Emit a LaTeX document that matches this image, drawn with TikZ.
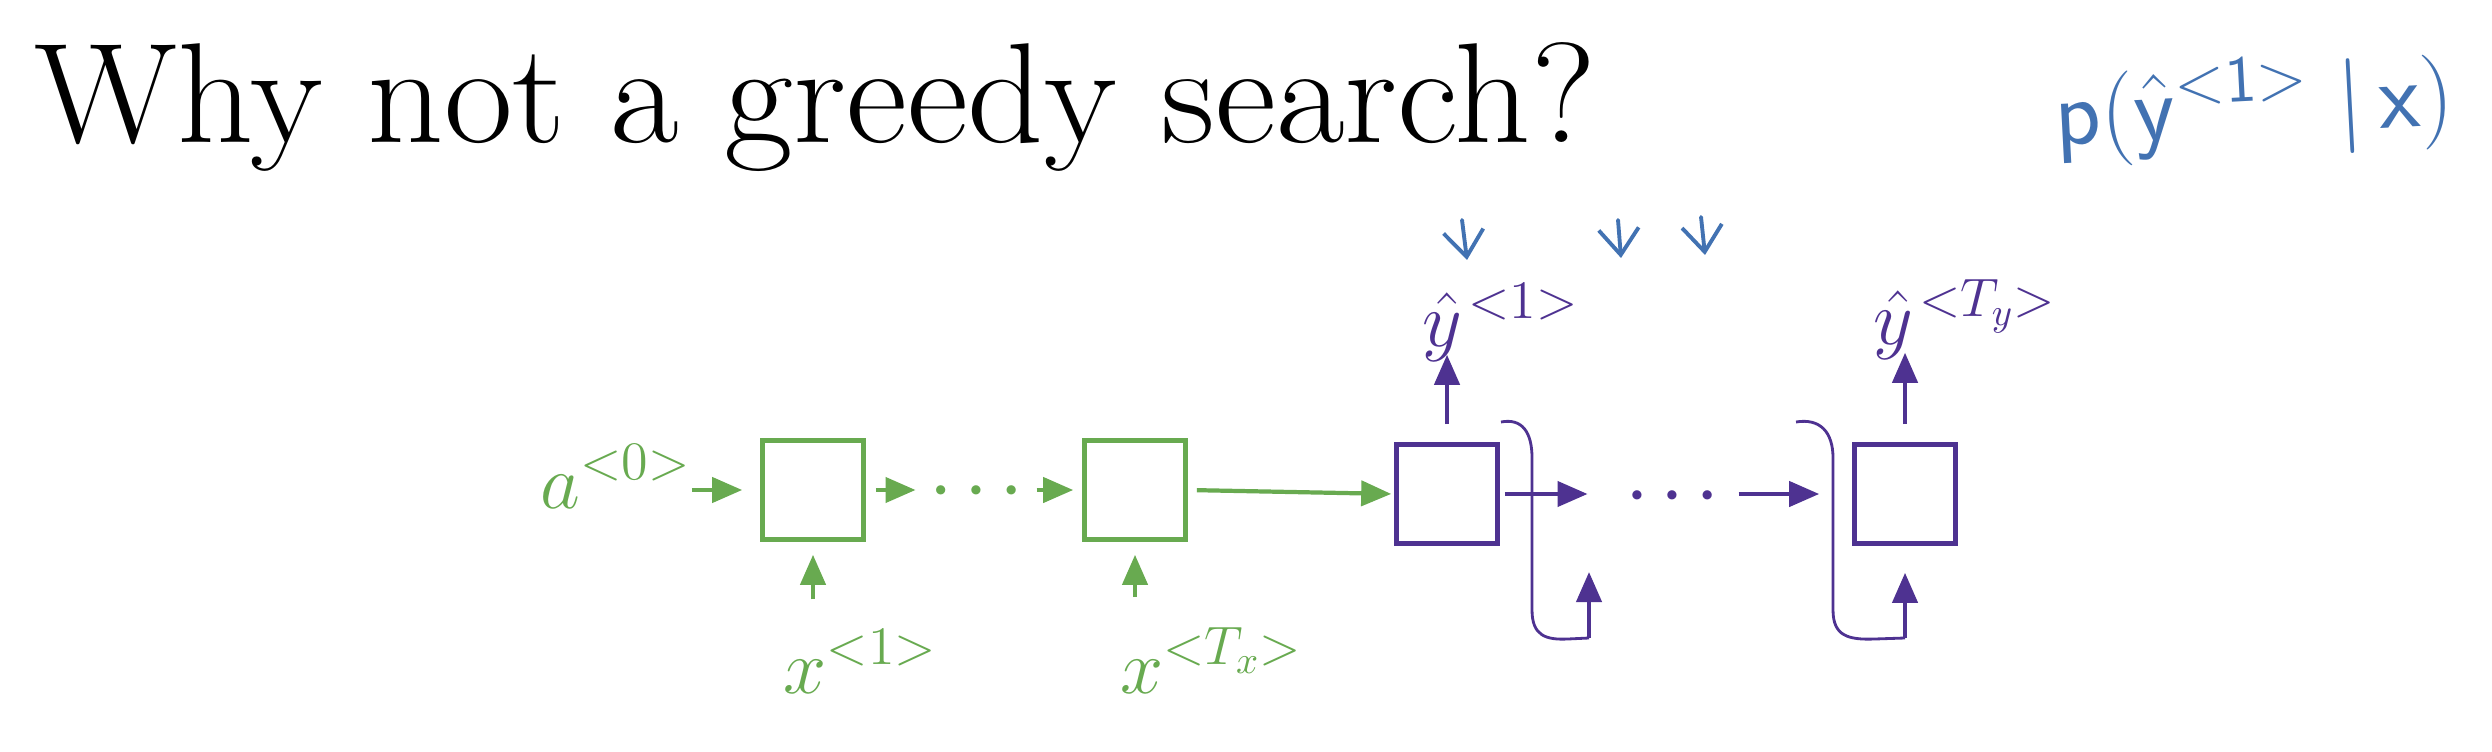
\RequirePackage{fix-cm}
\documentclass[tikz,border=0pt]{standalone}
\usepackage{graphicx}
\usetikzlibrary{arrows.meta}
\definecolor{ngreen}{RGB}{104,170,80}
\definecolor{npurple}{RGB}{78,50,145}
\definecolor{nblue}{RGB}{66,114,178}
\begin{document}
\begin{tikzpicture}[x=0.01cm,y=-0.01cm,
  cell/.style={draw, line width=1.3pt, minimum width=1.01cm, minimum height=0.99cm, inner sep=0pt},
  gcell/.style={cell, draw=ngreen},
  pcell/.style={cell, draw=npurple},
  lab/.style={inner sep=0pt, font=\fontsize{22}{26}\selectfont},
  dotsnode/.style={inner sep=0pt, font=\fontsize{9}{10}\selectfont},
  arr/.style={line width=1.2pt, -{Triangle[length=0.3cm,width=0.25cm]}},
  garr/.style={arr, color=ngreen},
  parr/.style={arr, color=npurple},
  loopline/.style={npurple, line width=0.8pt},
  hand/.style={nblue, line width=1.1pt, line cap=round, line join=round, -{Straight Barb[length=0.26cm,width=0.4cm]}}
]
\useasboundingbox (0,0) rectangle (2492,752);
\fill[white] (0,0) rectangle (2492,752);

% title
\node[anchor=base west, inner sep=0pt, font=\fontsize{40.5}{48}\selectfont] (title) at (34,143) {\scalebox{1.05}[1]{Why not a greedy search?}};

% handwritten
\node[nblue, inner sep=0pt, rotate=3, font=\fontsize{27}{32}\selectfont] (pf) at (2254,108) {$\mathsf{p}(\hat{\mathsf{y}}^{\mathsf{<1>}}\;|\,\mathsf{x})$};
\coordinate (h1a) at (1462,220); \coordinate (h1b) at (1467,260);
\coordinate (h2a) at (1618,220); \coordinate (h2b) at (1621,258);
\coordinate (h3a) at (1701,217); \coordinate (h3b) at (1705,255);
\draw[hand] (h1a) -- (h1b);
\draw[hand] (h2a) -- (h2b);
\draw[hand] (h3a) -- (h3b);

% cells
\node[gcell] (b1) at (813,490) {};
\node[gcell] (b2) at (1135,490) {};
\node[pcell] (b3) at (1447,494) {};
\node[pcell] (b4) at (1905,494) {};

% labels
\node[lab, ngreen, anchor=base west] (a0) at (540,508) {$a^{<0>}$};
\node[lab, ngreen, anchor=base west] (x1) at (783,693) {$x^{<1>}$};
\node[lab, ngreen, anchor=base west] (xT) at (1120,693) {$x^{<T_x>}$};
\node[lab, npurple, anchor=base west] (y1) at (1422,347) {$\hat{y}^{\mkern2mu<1>}$};
\node[lab, npurple, anchor=base west] (yT) at (1873,345) {$\hat{y}^{\mkern2mu<T_y>}$};
\node[dotsnode, ngreen] (d1) at (976,492) {\textbullet\kern2.8pt\textbullet\kern2.8pt\textbullet};
\node[dotsnode, npurple] (d2) at (1672,497) {\textbullet\kern2.8pt\textbullet\kern2.8pt\textbullet};

% green connectors
\draw[garr, shorten >=0.18cm] (a0.east |- b1.west) -- (b1.west);
\draw[garr, shorten <=0.1cm, shorten >=0.12cm] (b1.east) -- (d1.west |- b1.east);
\draw[garr, shorten <=0.12cm, shorten >=0.09cm] (d1.east |- b2.west) -- (b2.west);
\draw[garr, shorten <=0.09cm, shorten >=0.03cm] (b2.east) -- (b3.west);
\draw[garr, shorten <=0.3cm, shorten >=0.13cm] (x1.north -| b1.south) -- (b1.south);
\draw[garr, shorten <=0.3cm, shorten >=0.13cm] (xT.north -| b2.south) -- (b2.south);

% purple connectors
\draw[parr, shorten <=0.18cm, shorten >=-0.08cm] (b3.north) -- (y1.south -| b3.north);
\draw[parr, shorten <=0.18cm, shorten >=-0.08cm] (b4.north) -- (yT.south -| b4.north);
\draw[parr, shorten <=0.05cm, shorten >=0.36cm] (b3.east) -- (d2.west |- b3.east);
\draw[parr, shorten <=0.18cm, shorten >=0.33cm] (d2.east |- b4.west) -- (b4.west);

% feedback loops
\coordinate (l1s) at (1501,422);
\coordinate (l1e) at (1589,638);
\coordinate (in1) at (1589,572);
\draw[loopline] (l1s) .. controls (1522,418) and (1532,432) .. (1532,458) -- (1532,610)
  .. controls (1532,636) and (1546,640) .. (1568,639) -- (l1e);
\draw[parr] (l1e) -- (in1);
\coordinate (l2s) at (1796,422);
\coordinate (l2e) at (1905,638);
\draw[loopline] (l2s) .. controls (1820,418) and (1833,432) .. (1833,458) -- (1833,610)
  .. controls (1833,636) and (1848,640) .. (1875,639) -- (l2e);
\draw[parr, shorten >=0.27cm] (l2e) -- (b4.south);
\end{tikzpicture}
\end{document}
